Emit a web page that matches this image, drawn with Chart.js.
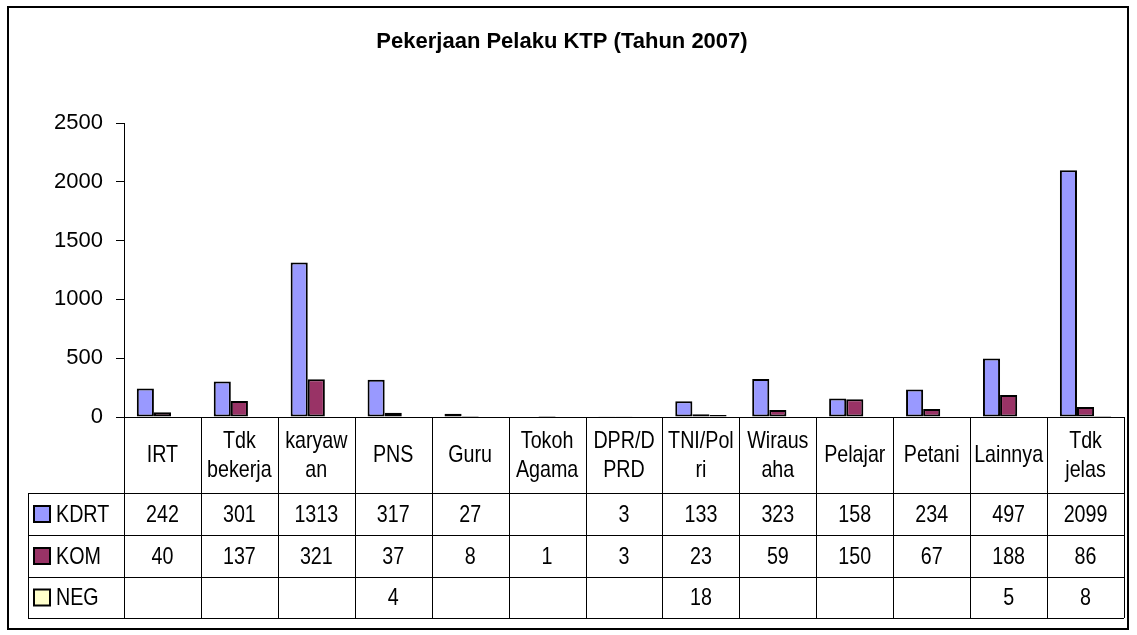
<!DOCTYPE html>
<html>
<head>
<meta charset="utf-8">
<script src="https://cdn.jsdelivr.net/npm/chart.js@4.4.0/dist/chart.umd.min.js"></script>
<style>
  html, body { margin: 0; padding: 0; background: #fff; }
  canvas { display: block; }
</style>
</head>
<body>
<canvas id="chart" width="1137" height="635"></canvas>
<script>
var categories = ["IRT", ["Tdk", "bekerja"], ["karyaw", "an"], "PNS", "Guru", ["Tokoh", "Agama"],
  ["DPR/D", "PRD"], ["TNI/Pol", "ri"], ["Wiraus", "aha"], "Pelajar", "Petani", "Lainnya", ["Tdk", "jelas"]];
var kdrt = [242, 301, 1313, 317, 27, null, 3, 133, 323, 158, 234, 497, 2099];
var kom = [40, 137, 321, 37, 8, 1, 3, 23, 59, 150, 67, 188, 86];
var neg = [null, null, null, 4, null, null, null, 18, null, null, null, 5, 8];
var yTicks = [0, 500, 1000, 1500, 2000, 2500];

var FONT = '"Liberation Sans", Arial, sans-serif';
var SQUEEZE = 0.82; // Arial Narrow look

document.addEventListener("DOMContentLoaded", function() {
  var ctx = document.getElementById("chart").getContext("2d");

  // write text squeezed horizontally
  var narrowText = function(c, text, x, y, align) {
    c.save();
    c.translate(x, y);
    c.scale(SQUEEZE, 1);
    c.textAlign = align;
    c.fillText(text, 0, 0);
    c.restore();
  };

  // frame round the whole chart
  var framePlugin = {
    id: "frame",
    beforeDraw: function(chart) {
      var c = chart.ctx;
      c.save();
      c.fillStyle = "#fff";
      c.fillRect(0, 0, chart.width, chart.height);
      c.strokeStyle = "#000";
      c.lineWidth = 2;
      c.strokeRect(8, 7, 1120, 622);
      c.restore();
    }
  };

  // data table under the plot, laid out on the x scale
  var tablePlugin = {
    id: "datatable",
    afterDraw: function(chart) {
      var c = chart.ctx;
      var x = chart.scales.x;
      var area = chart.chartArea;
      var n = categories.length;
      var w = (area.right - area.left) / n;
      var top = area.bottom;
      var rows = [top, top + 76, top + 118, top + 160, top + 201];
      var legendLeft = 28;

      c.save();
      c.strokeStyle = "#000";
      c.lineWidth = 1;
      c.beginPath();
      c.moveTo(area.left, rows[0] + 0.5);
      c.lineTo(area.right, rows[0] + 0.5);
      for (var r = 1; r < rows.length; r++) {
        c.moveTo(legendLeft, rows[r] + 0.5);
        c.lineTo(area.right, rows[r] + 0.5);
      }
      for (var i = 0; i <= n; i++) {
        var vx = Math.round(area.left + i * w) + 0.5;
        c.moveTo(vx, rows[0]);
        c.lineTo(vx, rows[4]);
      }
      c.moveTo(legendLeft + 0.5, rows[1]);
      c.lineTo(legendLeft + 0.5, rows[4]);
      c.stroke();

      c.fillStyle = "#000";
      c.font = "24px " + FONT;
      c.textBaseline = "middle";

      // header labels
      for (var j = 0; j < n; j++) {
        var cx = x.getPixelForValue(j);
        var lab = categories[j];
        var cy = (rows[0] + rows[1]) / 2;
        if (Array.isArray(lab)) {
          narrowText(c, lab[0], cx, cy - 14, "center");
          narrowText(c, lab[1], cx, cy + 15, "center");
        } else {
          narrowText(c, lab, cx, cy, "center");
        }
      }

      // value rows with legend keys
      chart.data.datasets.forEach(function(ds, k) {
        var cy = (rows[k + 1] + rows[k + 2]) / 2;
        ds.data.forEach(function(v, j) {
          if (v === null) return;
          narrowText(c, String(v), x.getPixelForValue(j), cy + 1, "center");
        });
        c.fillStyle = ds.backgroundColor;
        c.fillRect(34, cy - 8, 16, 16);
        c.lineWidth = 2;
        c.strokeStyle = "#000";
        c.strokeRect(34, cy - 8, 16, 16);
        c.fillStyle = "#000";
        narrowText(c, ds.label, 56, cy + 1, "left");
      });
      c.restore();
    }
  };

  var barStyle = { borderColor: "#000", borderWidth: 2, borderSkipped: false };

  new Chart(ctx, {
    type: "bar",
    data: {
      labels: categories,
      datasets: [
        Object.assign({ label: "KDRT", data: kdrt, backgroundColor: "#9999ff" }, barStyle),
        Object.assign({ label: "KOM", data: kom, backgroundColor: "#993366" }, barStyle),
        Object.assign({ label: "NEG", data: neg, backgroundColor: "#ffffcc" }, barStyle)
      ]
    },
    options: {
      responsive: false,
      animation: false,
      devicePixelRatio: 1,
      layout: { padding: { left: 0, right: 13, top: 0, bottom: 218 } },
      datasets: { bar: { categoryPercentage: 0.667, barPercentage: 1 } },
      plugins: {
        legend: { display: false },
        tooltip: { enabled: false },
        title: {
          display: true,
          text: "Pekerjaan Pelaku KTP (Tahun 2007)",
          color: "#000",
          font: { family: FONT, size: 22, weight: "bold" },
          padding: { top: 29, bottom: 67.6 }
        }
      },
      scales: {
        x: { display: false },
        y: {
          min: 0,
          max: 2500,
          afterBuildTicks: function(s) {
            s.ticks = yTicks.map(function(v) { return { value: v }; });
          },
          afterFit: function(s) { s.width = 124; },
          grid: { drawOnChartArea: false, drawTicks: true, tickLength: 8, color: "#000" },
          border: { display: true, color: "#000", width: 1 },
          ticks: {
            color: "#000",
            padding: 13,
            font: { family: FONT, size: 22 },
            callback: function(v) { return String(v); }
          }
        }
      }
    },
    plugins: [framePlugin, tablePlugin]
  });
});
</script>
</body>
</html>
